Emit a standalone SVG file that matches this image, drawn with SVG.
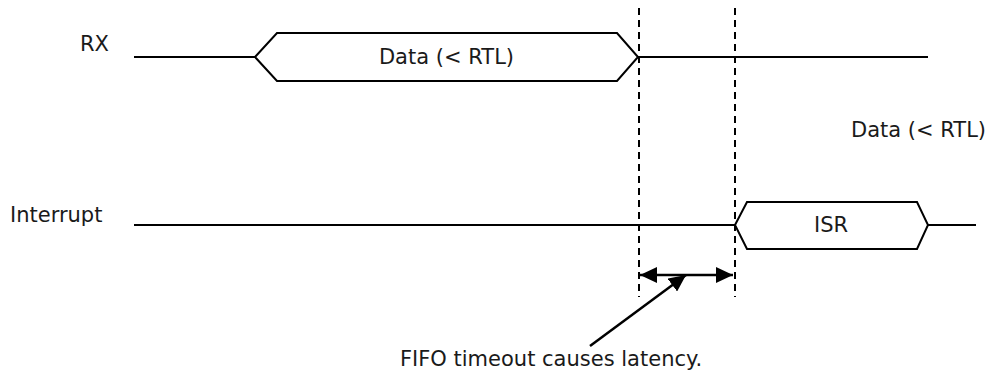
<svg xmlns="http://www.w3.org/2000/svg" width="995" height="371" viewBox="0 0 995 371">
<style>
  text { font-family: "DejaVu Sans", Verdana, sans-serif; font-size: 21px; fill: #1a1a1a; }
  .sig { fill: none; stroke: #000; stroke-width: 2; }
  .hex { fill: #fff; stroke: #000; stroke-width: 2; }
  .dash { fill: none; stroke: #000; stroke-width: 2; stroke-dasharray: 7 5; }
  .arr { fill: none; stroke: #000; stroke-width: 2.5; }
</style>
<defs>
  <marker id="ah" markerUnits="userSpaceOnUse" markerWidth="18" markerHeight="16" refX="17" refY="8" orient="auto-start-reverse">
    <path d="M0,0 L17,8 L0,16 Z" fill="#000"/>
  </marker>
</defs>
<rect width="995" height="371" fill="#fff"/>
<g id="labels">
  <text x="80" y="51">RX</text>
  <text x="10" y="222">Interrupt</text>
  <text x="851" y="137">Data (&lt; RTL)</text>
</g>
<g id="rx">
  <line class="sig" x1="134" y1="57" x2="255" y2="57"/>
  <polygon class="hex" points="255,57 277,33 617,33 638,57 617,81 277,81"/>
  <text x="446.5" y="64" text-anchor="middle">Data (&lt; RTL)</text>
  <line class="sig" x1="638" y1="57" x2="928" y2="57"/>
</g>
<g id="interrupt">
  <line class="sig" x1="134" y1="225" x2="735" y2="225"/>
  <polygon class="hex" points="735,225 747,202 917,202 928,225 917,249 747,249"/>
  <text x="831" y="232" text-anchor="middle">ISR</text>
  <line class="sig" x1="928" y1="225" x2="976" y2="225"/>
</g>
<g id="connectors">
  <line class="dash" x1="639" y1="8" x2="639" y2="297"/>
  <line class="dash" x1="735" y1="8" x2="735" y2="297"/>
  <line class="arr" x1="640" y1="275" x2="733" y2="275" marker-start="url(#ah)" marker-end="url(#ah)"/>
  <line class="arr" x1="590" y1="346" x2="686" y2="275" marker-end="url(#ah)"/>
</g>
<g id="note">
  <text x="400" y="366">FIFO timeout causes latency.</text>
</g>
</svg>
